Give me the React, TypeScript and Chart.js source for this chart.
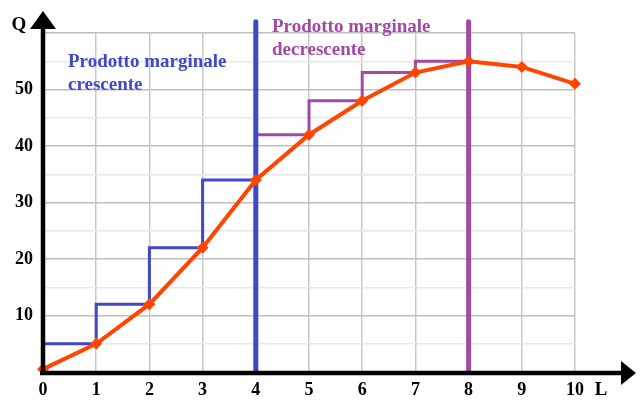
import React, { useEffect, useRef } from "react";
import { Chart, registerables } from "chart.js";

Chart.register(...registerables);

const L = [0, 1, 2, 3, 4, 5, 6, 7, 8, 9, 10];
const Q = [0.5, 5, 12, 22, 34, 42, 48, 53, 55, 54, 51];
const increasingSteps = [5, 12, 22, 34]; // intervals 0-1 .. 3-4
const decreasingSteps = [42, 48, 53, 55]; // intervals 4-5 .. 7-8
const yLabels = [10, 20, 30, 40, 50];
const blueLabel = ["Prodotto marginale", "crescente"];
const purpleLabel = ["Prodotto marginale", "decrescente"];

const BLUE = "#3f48cc";
const PURPLE = "#a349a4";
const ORANGE = "#ff4500";
const FONT = '"Liberation Serif", "Times New Roman", serif';

export default function App() {
  const ref = useRef<HTMLCanvasElement | null>(null);

  useEffect(() => {
    document.body.style.margin = "0";
    const canvas = ref.current;
    if (!canvas) return;

    const curve = L.map((x, i) => ({ x, y: Q[i] }));
    // step segments: vertical rise at the start of each interval, then horizontal
    const blueSteps: { x: number; y: number }[] = [{ x: 0, y: 0 }];
    increasingSteps.forEach((y, i) => {
      blueSteps.push({ x: L[i], y });
      blueSteps.push({ x: L[i + 1], y });
    });
    const purpleSteps: { x: number; y: number }[] = [{ x: 4, y: Q[4] }];
    decreasingSteps.forEach((y, i) => {
      purpleSteps.push({ x: L[i + 4], y });
      purpleSteps.push({ x: L[i + 5], y });
    });

    const decor = {
      id: "decor",
      afterDatasetsDraw(chart: any) {
        const ctx = chart.ctx;
        const xs = chart.scales.x;
        const ys = chart.scales.y;
        const x0 = xs.getPixelForValue(0);
        const y0 = ys.getPixelForValue(0);
        ctx.save();
        ctx.strokeStyle = "#000";
        ctx.fillStyle = "#000";
        ctx.lineWidth = 4.5;
        // y axis
        ctx.beginPath();
        ctx.moveTo(x0, y0 + 3);
        ctx.lineTo(x0, 26);
        ctx.stroke();
        ctx.beginPath();
        ctx.moveTo(x0, 11);
        ctx.lineTo(x0 + 13, 29);
        ctx.lineTo(x0 - 13, 29);
        ctx.closePath();
        ctx.fill();
        // x axis
        ctx.beginPath();
        ctx.moveTo(x0 - 3, y0 + 1);
        ctx.lineTo(624, y0 + 1);
        ctx.stroke();
        ctx.beginPath();
        ctx.moveTo(636, y0 + 1);
        ctx.lineTo(621, y0 - 11);
        ctx.lineTo(621, y0 + 13);
        ctx.closePath();
        ctx.fill();
        // axis names
        ctx.font = `bold 19px ${FONT}`;
        ctx.textAlign = "center";
        ctx.textBaseline = "middle";
        ctx.fillText("Q", 19, 25);
        ctx.fillText("L", 601, 390);
        // annotations
        ctx.textAlign = "left";
        ctx.textBaseline = "alphabetic";
        ctx.fillStyle = BLUE;
        ctx.fillText(blueLabel[0], 68, 67);
        ctx.fillText(blueLabel[1], 68, 90);
        ctx.fillStyle = PURPLE;
        ctx.fillText(purpleLabel[0], 272, 32);
        ctx.fillText(purpleLabel[1], 272, 55);
        ctx.restore();
      },
    };

    const chart = new Chart(canvas, {
      type: "line",
      data: {
        datasets: [
          {
            data: curve,
            borderColor: ORANGE,
            backgroundColor: ORANGE,
            borderWidth: 4,
            pointStyle: "rectRot",
            pointRadius: 6,
            pointBorderWidth: 0,
            tension: 0,
            clip: false,
          },
          {
            data: [{ x: 4, y: 0 }, { x: 4, y: 62 }],
            borderColor: BLUE,
            borderWidth: 5,
            borderCapStyle: "round",
            pointRadius: 0,
            clip: false,
          },
          {
            data: [{ x: 8, y: 0 }, { x: 8, y: 62 }],
            borderColor: PURPLE,
            borderWidth: 5,
            borderCapStyle: "round",
            pointRadius: 0,
            clip: false,
          },
          {
            data: blueSteps,
            borderColor: BLUE,
            borderWidth: 3,
            pointRadius: 0,
            tension: 0,
          },
          {
            data: purpleSteps,
            borderColor: PURPLE,
            borderWidth: 3,
            pointRadius: 0,
            tension: 0,
          },
        ],
      } as any,
      options: {
        animation: false,
        responsive: true,
        maintainAspectRatio: false,
        layout: { padding: { left: 0, top: 33, right: 67, bottom: 0 } },
        plugins: { legend: { display: false }, tooltip: { enabled: false } },
        scales: {
          x: {
            type: "linear",
            min: 0,
            max: 10,
            border: { display: false },
            grid: { color: "#c8c8c8", drawTicks: false, lineWidth: 1.5 },
            ticks: {
              stepSize: 1,
              padding: 8,
              color: "#000",
              font: { family: FONT, size: 18, weight: "bold" },
            },
            afterFit: (s: any) => {
              s.height = 36;
            },
          },
          y: {
            type: "linear",
            min: 0,
            max: 60,
            border: { display: false },
            grid: {
              drawTicks: false,
              lineWidth: 1.5,
              color: (c: any) => (c.tick && c.tick.value % 10 === 0 ? "#bfbfbf" : "#e8e8e8"),
            },
            ticks: {
              stepSize: 5,
              padding: 10,
              color: "#000",
              font: { family: FONT, size: 18, weight: "bold" },
              callback: (v: any) => (yLabels.includes(Number(v)) ? String(v) : ""),
            },
            afterFit: (s: any) => {
              s.width = 43;
            },
          },
        },
      } as any,
      plugins: [decor],
    });
    return () => chart.destroy();
  }, []);

  return (
    <div style={{ position: "relative", width: 642, height: 408 }}>
      <canvas ref={ref} />
    </div>
  );
}
